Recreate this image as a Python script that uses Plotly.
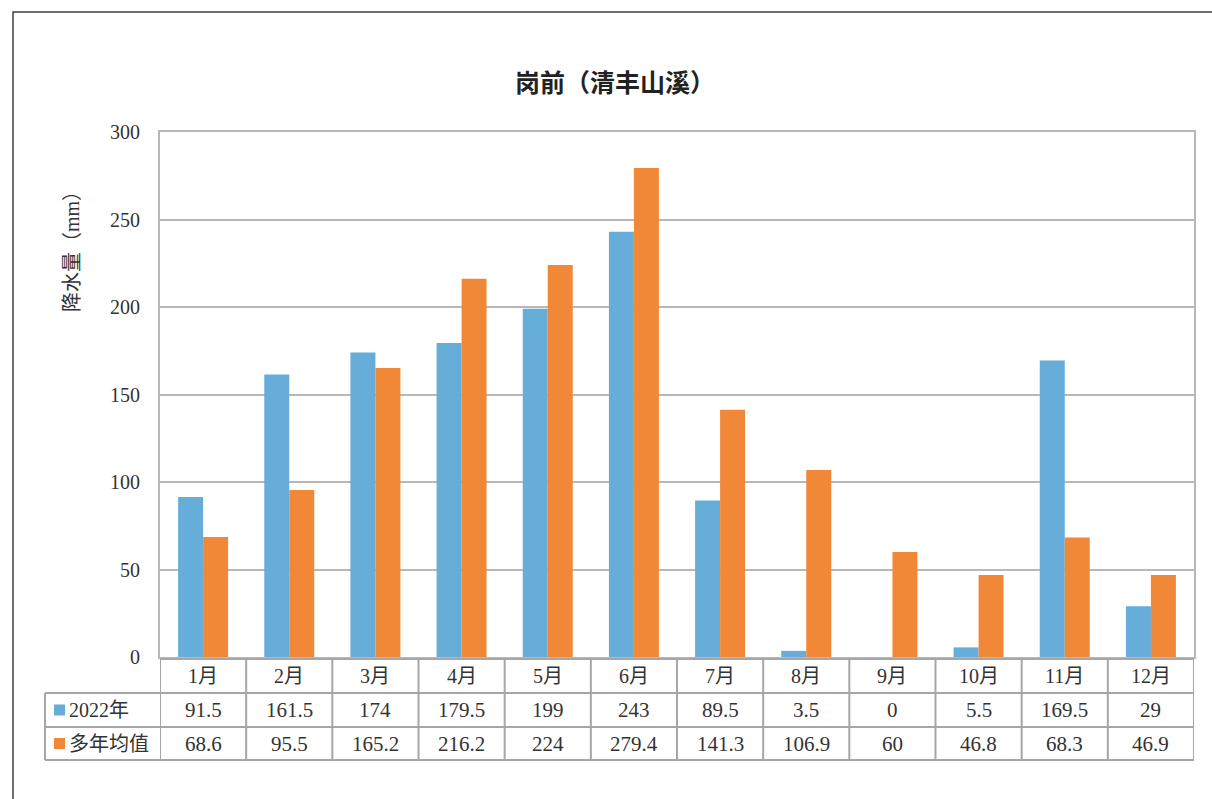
import plotly.graph_objects as go

# Monthly precipitation at 岗前 station (清丰山溪), mm
months = ["1月", "2月", "3月", "4月", "5月", "6月", "7月", "8月", "9月", "10月", "11月", "12月"]
rain_2022 = [91.5, 161.5, 174, 179.5, 199, 243, 89.5, 3.5, 0, 5.5, 169.5, 29]
rain_avg = [68.6, 95.5, 165.2, 216.2, 224, 279.4, 141.3, 106.9, 60, 46.8, 68.3, 46.9]
series_names = ["2022年", "多年均值"]
y_ticks = [0, 50, 100, 150, 200, 250, 300]

BLUE = "#66ADD9"
ORANGE = "#F08838"
GRID = "#B8B8B8"
TEXT = "#333333"
FONT = "Liberation Serif, Noto Sans CJK SC, serif"

fig = go.Figure()
fig.add_trace(go.Bar(x=months, y=rain_2022, name=series_names[0], marker_color=BLUE,
                     marker_line_width=0))
fig.add_trace(go.Bar(x=months, y=rain_avg, name=series_names[1], marker_color=ORANGE,
                     marker_line_width=0))

W, H = 1212, 799
L, R, T, B = 160, 18, 132, 142
pw, ph = W - L - R, H - T - B


def px_x(x):
    return (x - L) / pw


def px_y(y):
    return (H - B - y) / ph


shapes = []
annotations = []

# outer chart frame
shapes.append(dict(type="rect", xref="paper", yref="paper",
                   x0=px_x(13), x1=px_x(W + 5), y0=px_y(H + 5), y1=px_y(12),
                   line=dict(color="#404040", width=1.5), fillcolor="rgba(0,0,0,0)", layer="below"))

# data table grid
tbl_top, row1, row2, row3 = 659, 693, 727, 760
tbl_left = 45
line_style = dict(color="#A6A6A6", width=2)
shapes.append(dict(type="line", xref="x", yref="paper", x0=-0.5, x1=11.5,
                   y0=px_y(tbl_top), y1=px_y(tbl_top), line=line_style))
for yy in (row1, row2, row3):
    shapes.append(dict(type="line", xref="paper", yref="paper", x0=px_x(tbl_left), x1=1.0,
                       y0=px_y(yy), y1=px_y(yy), line=line_style))
shapes.append(dict(type="line", xref="paper", yref="paper", x0=px_x(tbl_left), x1=px_x(tbl_left),
                   y0=px_y(row1), y1=px_y(row3), line=line_style))
for i in range(len(months) + 1):
    shapes.append(dict(type="line", xref="x", yref="paper", x0=i - 0.5, x1=i - 0.5,
                       y0=px_y(tbl_top), y1=px_y(row3), line=line_style))

# legend keys inside the table
for (y0, y1, color) in ((row1, row2, BLUE), (row2, row3, ORANGE)):
    cy = (y0 + y1) / 2
    shapes.append(dict(type="rect", xref="paper", yref="paper",
                       x0=px_x(54), x1=px_x(65), y0=px_y(cy + 5.5), y1=px_y(cy - 5.5),
                       line=dict(width=0), fillcolor=color))

cell_font = dict(family=FONT, size=21, color=TEXT)
for (y0, y1, name) in ((row1, row2, series_names[0]), (row2, row3, series_names[1])):
    annotations.append(dict(x=px_x(67), y=px_y((y0 + y1) / 2), xref="paper", yref="paper",
                            text=name, showarrow=False, xanchor="left", yanchor="middle",
                            font=dict(family=FONT, size=20, color=TEXT)))

for i, m in enumerate(months):
    annotations.append(dict(x=m, y=px_y((tbl_top + row1) / 2), xref="x", yref="paper",
                            text=m, showarrow=False, yanchor="middle",
                            font=dict(family=FONT, size=20, color=TEXT)))
    annotations.append(dict(x=m, y=px_y((row1 + row2) / 2), xref="x", yref="paper",
                            text=f"{rain_2022[i]:g}", showarrow=False, yanchor="middle", font=cell_font))
    annotations.append(dict(x=m, y=px_y((row2 + row3) / 2), xref="x", yref="paper",
                            text=f"{rain_avg[i]:g}", showarrow=False, yanchor="middle", font=cell_font))

# y axis title
annotations.append(dict(x=px_x(72), y=px_y(247), xref="paper", yref="paper",
                        text="降水量（mm）", textangle=-90, showarrow=False,
                        xanchor="center", yanchor="middle",
                        font=dict(family=FONT, size=20, color=TEXT)))

# chart title
annotations.append(dict(x=px_x(615), y=px_y(83), xref="paper", yref="paper",
                        text="<b>岗前（清丰山溪）</b>", showarrow=False,
                        xanchor="center", yanchor="middle",
                        font=dict(family=FONT, size=25, color="#222222")))

fig.update_layout(
    width=W, height=H,
    margin=dict(l=L, r=R, t=T, b=B, autoexpand=False),
    paper_bgcolor="white", plot_bgcolor="white",
    barmode="group", bargap=0.42, bargroupgap=0,
    showlegend=False,
    shapes=shapes, annotations=annotations,
    font=dict(family=FONT, color=TEXT),
)
fig.update_xaxes(showticklabels=False, showgrid=False, zeroline=False,
                 showline=True, linecolor=GRID, linewidth=2, mirror=True,
                 range=[-0.5, 11.5], ticks="")
fig.update_yaxes(range=[0, 300], tickvals=y_ticks, showgrid=True, gridcolor=GRID, gridwidth=1.5,
                 zeroline=False, showline=True, linecolor=GRID, linewidth=2, mirror=True,
                 ticks="", ticklabelstandoff=14,
                 tickfont=dict(family=FONT, size=20, color=TEXT))

fig.write_html("out.html")
